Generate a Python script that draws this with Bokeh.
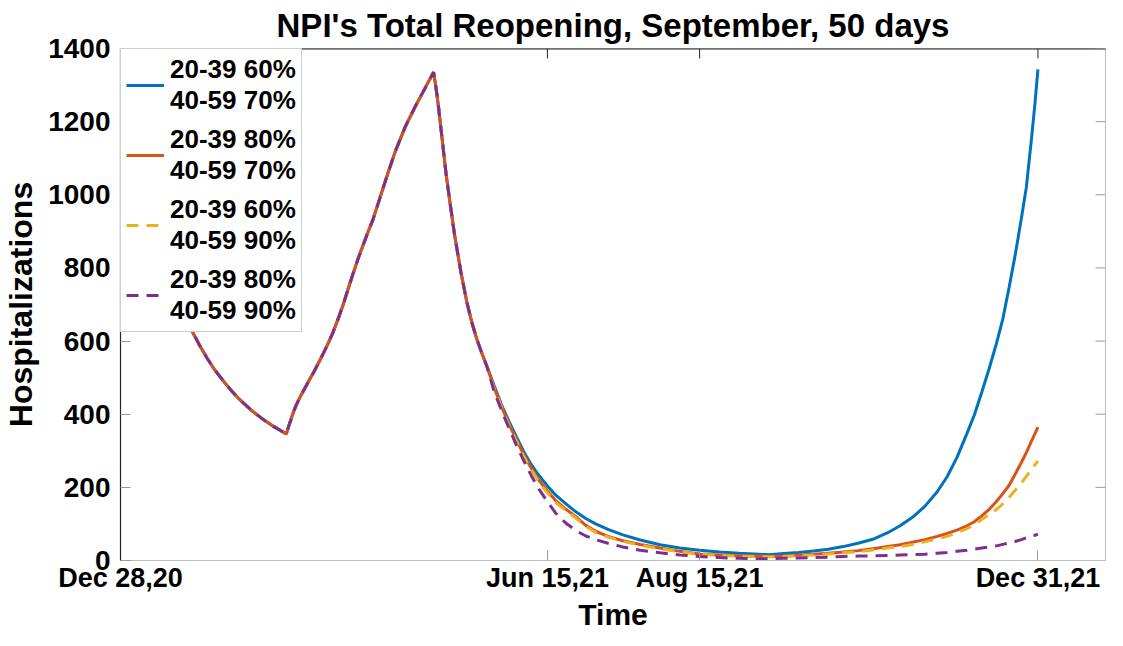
import math
from bokeh.plotting import figure
from bokeh.models import FixedTicker, Legend, LegendItem, Title
from bokeh.embed import file_html
from bokeh.resources import INLINE

# ---- data (x = days since Dec 28, 2020) ----
head_days = [0, 4, 8, 12, 16, 20, 23, 26, 29, 32, 35, 38, 42, 45, 48, 53, 58, 62,
             65, 67, 68, 69, 70, 71, 72.5, 74, 76, 78, 80, 82, 84, 86, 88, 90, 92,
             94, 96, 98, 100, 102, 105, 108, 111, 115, 119, 122, 124.5, 126.5,
             127.5, 128.5, 130, 131.5, 133, 135, 137.5, 140, 142, 144, 146, 148]
head_vals = [1060, 992, 928, 866, 806, 752, 708, 666, 626, 588, 553, 522, 487,
             463, 441, 410, 384, 366, 354, 346, 368, 388, 408, 425, 446, 465,
             490, 514, 540, 567, 595, 626, 662, 700, 743, 785, 825, 862, 898,
             932, 995, 1058, 1118, 1185, 1240, 1278, 1310, 1335, 1292, 1240,
             1150, 1060, 985, 890, 790, 705, 650, 605, 567, 532]

tail_days = [151, 154, 157, 160, 163, 166, 169, 172.5, 176, 180,
             184, 188, 192, 197, 203, 210, 218, 226, 234, 242,
             250, 256, 262, 268, 274, 280, 286, 292, 298, 304,
             310, 315, 320, 325, 330, 334, 338, 342, 345, 348,
             351, 354, 356.5, 359, 361.5, 364, 366, 368, 369.5, 370.7]

tail_60_70 = [478, 425, 380, 338, 297, 262, 233, 204, 178, 155,
              133, 115, 100, 85, 70, 56, 43, 34, 28, 23,
              20, 18, 16, 19, 22, 26, 31, 38, 47, 58,
              76, 95, 118, 148, 188, 229, 282, 347, 398, 460,
              525, 595, 660, 745, 835, 935, 1020, 1147, 1250, 1343]
tail_80_70 = [472, 420, 372, 330, 288, 252, 220, 190, 163, 140,
              120, 96, 80, 66, 54, 44, 34, 25, 18, 15,
              13, 12, 11, 12, 15, 17, 20, 23, 27, 32,
              38, 43, 50, 57, 66, 74, 83, 95, 106, 122,
              140, 162, 183, 205, 236, 268, 295, 325, 347, 365]
tail_60_90 = [470, 418, 369, 326, 284, 248, 215, 185, 158, 136,
              116, 93, 77, 64, 52, 42, 32, 24, 17, 14,
              12, 11, 10, 11, 13, 15, 18, 21, 24, 29,
              34, 38, 44, 51, 59, 66, 76, 87, 98, 112,
              126, 140, 155, 172, 192, 212, 230, 248, 262, 272]
tail_80_90 = [462, 410, 362, 315, 272, 232, 196, 161, 128, 102,
              82, 67, 57, 47, 37, 28, 21, 15, 11, 8,
              6, 5, 5, 6, 7, 8, 9, 11, 12, 13,
              14, 15, 16, 17, 20, 22, 25, 28, 31, 34,
              37, 40, 44, 48, 52, 57, 62, 66, 69, 72]

days = head_days + tail_days
series = [
    ("20-39 60%\n40-59 70%", head_vals + tail_60_70, "#0072BD", "solid"),
    ("20-39 80%\n40-59 70%", head_vals + tail_80_70, "#D95319", "solid"),
    ("20-39 60%\n40-59 90%", head_vals + tail_60_90, "#EDB120", "12 8"),
    ("20-39 80%\n40-59 90%", head_vals + tail_80_90, "#7E2F8E", "12 8"),
]

xtick_pos = [0, 172.5, 234, 370.7]
xtick_labels = ["Dec 28,20", "Jun 15,21", "Aug 15,21", "Dec 31,21"]
ytick_pos = [0, 200, 400, 600, 800, 1000, 1200, 1400]
x_max, y_max = 398, 1400

FONT = "Liberation Sans"
DARK = "#262626"
LIGHT = "#bdbdbd"

p = figure(width=1107, height=630, output_backend="svg", toolbar_location=None,
           x_range=(0, x_max), y_range=(0, y_max),
           title="NPI's Total Reopening, September, 50 days",
           min_border_left=115, min_border_right=2, min_border_bottom=0,
           min_border_top=40)
p.grid.visible = False
p.outline_line_color = LIGHT
p.background_fill_color = "white"

p.title.text_font = FONT
p.title.text_font_style = "bold"
p.title.text_font_size = "33px"
p.title.align = "center"
p.title.text_color = "black"
p.title.standoff = 9
p.title.offset = 0

renderers = []
for label, vals, color, dash in series:
    r = p.line(days, vals, line_color=color, line_width=3, line_dash=dash)
    renderers.append((label, r))

# box edges and inward ticks on the top and right sides
p.ray(x=[0], y=[y_max], length=0, angle=0, line_color=DARK, line_width=2)
p.ray(x=xtick_pos, y=[y_max] * len(xtick_pos), length=10, length_units="screen",
      angle=-math.pi / 2, line_color=DARK, line_width=1)
p.ray(x=[x_max] * len(ytick_pos), y=ytick_pos, length=10, length_units="screen",
      angle=math.pi, line_color="#9a9a9a", line_width=1)

def style_axis(ax, line_color):
    ax.major_tick_in = 10
    ax.major_tick_out = 0
    ax.minor_tick_line_color = None
    ax.axis_line_color = line_color
    ax.major_tick_line_color = "#9a9a9a"
    ax.axis_line_width = 1.2
    ax.major_label_text_font = FONT
    ax.major_label_text_font_style = "bold"
    ax.major_label_text_color = "black"
    ax.axis_label_text_font = FONT
    ax.axis_label_text_font_style = "bold"
    ax.axis_label_text_color = "black"

xax = p.xaxis[0]
xax.ticker = FixedTicker(ticks=xtick_pos)
xax.major_label_overrides = dict(zip(xtick_pos, xtick_labels))
style_axis(xax, LIGHT)
xax.major_label_text_font_size = "27px"
xax.major_label_standoff = 2

x_title = Title(text="Time", align="center", text_font=FONT,
                text_font_style="bold", text_font_size="30px",
                text_color="black", standoff=0, offset=0)
p.add_layout(x_title, "below")

yax = p.yaxis[0]
yax.ticker = FixedTicker(ticks=ytick_pos)
yax.axis_label = "Hospitalizations"
style_axis(yax, DARK)
yax.major_label_text_font_size = "28px"
yax.axis_label_text_font_size = "32px"
yax.major_label_standoff = 10
yax.axis_label_standoff = 6

legend = Legend(items=[LegendItem(label=l, renderers=[r]) for l, r in renderers],
                location="top_left")
legend.label_text_font = FONT
legend.label_text_font_style = "bold"
legend.label_text_font_size = "26px"
legend.label_text_color = "black"
legend.label_text_line_height = 1.25
legend.glyph_width = 38
legend.glyph_height = 60
legend.label_height = 60
legend.padding = 5
legend.margin = 0
legend.spacing = 8
legend.label_standoff = 6
legend.border_line_color = "#a0a0a0"
legend.border_line_width = 1
legend.background_fill_color = "white"
legend.background_fill_alpha = 1
p.add_layout(legend)

open("out.html", "w").write(file_html(p, INLINE))
